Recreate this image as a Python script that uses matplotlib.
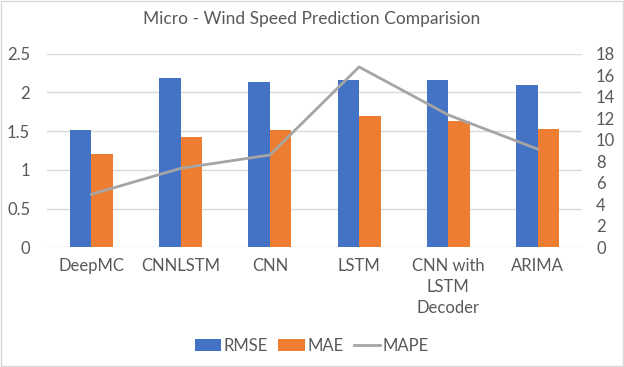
import matplotlib.pyplot as plt
import numpy as np

models = ["DeepMC", "CNNLSTM", "CNN", "LSTM", "CNN with\nLSTM\nDecoder", "ARIMA"]
rmse = [1.52, 2.19, 2.13, 2.165, 2.16, 2.10]
mae = [1.205, 1.43, 1.515, 1.69, 1.63, 1.53]
mape = [4.93, 7.34, 8.58, 16.76, 12.3, 9.13]

text_col = "#595959"
plt.rcParams['font.family'] = ['Lato', 'DejaVu Sans']

fig = plt.figure(figsize=(6.24, 3.67), dpi=100)
ax = fig.add_axes([0.075, 0.326, 0.858, 0.528])
ax2 = ax.twinx()

x = np.arange(len(models))
w = 0.24
ax.bar(x - w / 2, rmse, w, color="#4472C4", label="RMSE", zorder=3)
ax.bar(x + w / 2, mae, w, color="#ED7D31", label="MAE", zorder=3)
ax2.plot(x, mape, color="#A5A5A5", lw=2, label="MAPE", zorder=4)

ax.set_xlim(-0.5, len(models) - 0.5)
ax.set_ylim(0, 2.5)
ax.set_yticks([0, 0.5, 1, 1.5, 2, 2.5])
ax.set_yticklabels(["0", "0.5", "1", "1.5", "2", "2.5"])
ax2.set_ylim(0, 18)
ax2.set_yticks(range(0, 19, 2))
ax.yaxis.grid(True, color="#D9D9D9", lw=1, zorder=0)
ax.set_axisbelow(True)

ax.set_xticks(x)
ax.set_xticklabels(models, linespacing=1.35)
for a in (ax, ax2):
    for s in a.spines.values():
        s.set_visible(False)
    a.tick_params(length=0, colors=text_col, labelsize=12)
ax.tick_params(axis="x", pad=8)
ax.tick_params(axis="y", pad=12)
ax2.tick_params(axis="y", pad=10)

fig.suptitle("Micro - Wind Speed Prediction Comparision", y=0.97, fontsize=12.5, color=text_col)

h1, l1 = ax.get_legend_handles_labels()
h2, l2 = ax2.get_legend_handles_labels()
fig.legend(h1 + h2, l1 + l2, loc="center", bbox_to_anchor=(0.5, 0.058), ncol=3, frameon=False,
           fontsize=12, labelcolor=text_col, handlelength=1.6, handleheight=0.8,
           handletextpad=0.15, columnspacing=0.6)

fig.patches.append(plt.Rectangle((0.001, 0.002), 0.997, 0.995, transform=fig.transFigure,
                                 fill=False, edgecolor="#D9D9D9", lw=1))

fig.savefig("out.png", dpi=100)
